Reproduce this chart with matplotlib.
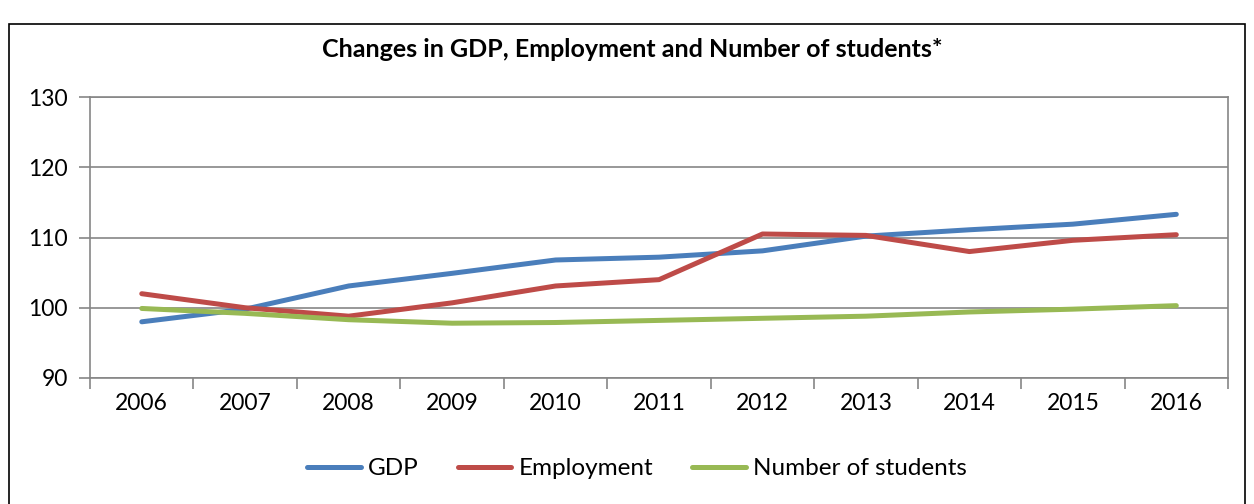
import matplotlib
matplotlib.use("Agg")
import matplotlib.pyplot as plt
from matplotlib.patches import Rectangle
import numpy as np

years = ["2006", "2007", "2008", "2009", "2010", "2011",
         "2012", "2013", "2014", "2015", "2016"]
gdp = [98.0, 99.8, 103.1, 104.9, 106.8, 107.2, 108.1, 110.2, 111.1, 111.9, 113.3]
employment = [102.0, 100.0, 98.8, 100.7, 103.1, 104.0, 110.5, 110.3, 108.0, 109.6, 110.4]
students = [99.9, 99.2, 98.3, 97.8, 97.9, 98.2, 98.5, 98.8, 99.4, 99.8, 100.3]

SERIES = [
    ("GDP", gdp, "#4A7EBB"),
    ("Employment", employment, "#BE4B48"),
    ("Number of students", students, "#98B954"),
]

plt.rcParams["font.family"] = ["Lato", "DejaVu Sans"]

fig = plt.figure(figsize=(12.54, 5.04), dpi=100)
ax = fig.add_axes([0.0718, 0.25, 0.9075, 0.5575])

# outer chart border
fig.patches.append(Rectangle((9 / 1254, -0.05), 1236 / 1254, 1.03 - 9 / 504 - 0.01,
                             transform=fig.transFigure, fill=False,
                             edgecolor="black", linewidth=1.2))

x = np.arange(len(years))
for label, vals, color in SERIES:
    ax.plot(x, vals, color=color, linewidth=3.6, solid_capstyle="round", label=label)

ax.set_xlim(-0.5, len(years) - 0.5)
ax.set_ylim(90, 130)
ax.set_yticks([90, 100, 110, 120, 130])
ax.set_xticks(x)
ax.set_xticklabels(years)
ax.set_xticks(np.arange(-0.5, len(years)), minor=True)
ax.tick_params(axis="x", which="major", length=0, pad=11, labelsize=16.5)
ax.tick_params(axis="x", which="minor", length=8, width=1.2, color="#868686", direction="out")
ax.tick_params(axis="y", length=8, width=1.2, color="#868686", labelsize=16.5, pad=8)
ax.grid(axis="y", color="#868686", linewidth=1.2)
ax.set_axisbelow(True)
for s in ax.spines.values():
    s.set_color("#868686")
    s.set_linewidth(1.2)

fig.text(0.504, 0.902, "Changes in GDP, Employment and Number of students*",
         ha="center", va="center", fontsize=18, fontweight="bold")

fig.legend(loc="center", bbox_to_anchor=(0.508, 0.07), ncol=3, frameon=False,
           fontsize=17.5, handlelength=2.2, handletextpad=0.3, columnspacing=1.6)

fig.savefig("out.png", dpi=100)
